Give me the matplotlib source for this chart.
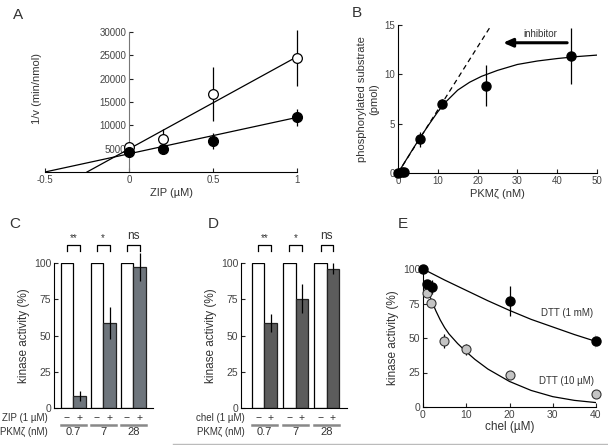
import numpy as np
import matplotlib
matplotlib.use("Agg")
import matplotlib.pyplot as plt
from matplotlib.lines import Line2D

plt.rcParams['font.family'] = ['Liberation Sans', 'DejaVu Sans']
plt.rcParams['font.size'] = 7
plt.rcParams['text.color'] = '#333333'
plt.rcParams['axes.labelcolor'] = '#333333'
plt.rcParams['xtick.color'] = '#222222'
plt.rcParams['ytick.color'] = '#222222'
plt.rcParams['xtick.labelcolor'] = '#444444'
plt.rcParams['ytick.labelcolor'] = '#444444'
plt.rcParams['xtick.direction'] = 'in'
plt.rcParams['ytick.direction'] = 'in'

# ---- panel A: 1/v vs ZIP
zip_conc = [0, 0.2, 0.5, 1.0]
inv_v_open = [5300, 7000, 16800, 24500]
inv_v_open_err = [600, 2300, 5800, 6000]
inv_v_filled = [4200, 4900, 6600, 11700]
inv_v_filled_err = [400, 500, 1700, 1800]
open_fit_x = [-0.25, 1.0]
open_fit_y = [0, 24700]
filled_fit_x = [-0.5, 1.0]
filled_fit_y = [0, 11700]

# ---- panel B: phosphorylated substrate vs PKMzeta
pkm_conc = [0, 0.9, 1.5, 5.5, 11, 22, 43.5]
phos = [0, 0.07, 0.13, 3.4, 7.0, 8.85, 11.85]
phos_err = [0, 0, 0, 0.75, 0.45, 2.1, 2.8]
phos_fit_x = [0, 2, 4, 6, 8, 10, 12, 15, 18, 21, 25, 30, 35, 40, 45, 50]
phos_fit_y = [0, 1.3, 2.6, 3.85, 5.05, 6.2, 7.2, 8.4, 9.2, 9.8, 10.4, 11.0, 11.35, 11.6, 11.8, 11.95]
initial_x = [0, 23]
initial_y = [0, 14.7]

# ---- panels C, D: kinase activity bars
pkm_labels = ['0.7', '7', '28']
control = [100, 100, 100]
zip_activity = [8, 58.5, 97.5]
zip_err = [3.5, 11, 9.7]
chel_activity = [58.6, 75.2, 96.1]
chel_err = [6.5, 10, 4]
signif = ['**', '*', 'ns']

# ---- panel E: kinase activity vs chel
chel_hi_x = [0, 0.9, 2.0, 20, 40]
chel_hi_y = [100, 89, 86.7, 76.8, 47.8]
chel_hi_err = [0, 3, 5, 11, 5]
chel_lo_x = [0.85, 1.8, 4.9, 9.9, 20, 40]
chel_lo_y = [82.4, 75.6, 47.8, 41.8, 23.2, 9.2]
chel_lo_err = [0, 0, 5, 4, 0, 0]
hi_fit_x = [0, 5, 10, 15, 20, 25, 30, 35, 40]
hi_fit_y = [100, 92, 84.5, 77, 70, 63.5, 58, 52.5, 47.5]
lo_fit_x = [1, 2, 3, 4, 5, 6, 8, 10, 12, 15, 20, 25, 30, 35, 40]
lo_fit_y = [85, 77, 69.5, 63, 57.5, 53, 46, 40, 34.5, 27.5, 18.5, 12, 7.5, 4.8, 3.2]

W, H = 608, 445
fig = plt.figure(figsize=(W / 100, H / 100), dpi=100)


def add_ax(left, top, right, bottom):
    return fig.add_axes([left / W, 1 - bottom / H, (right - left) / W, (bottom - top) / H])


def clean(ax):
    ax.spines['top'].set_visible(False)
    ax.spines['right'].set_visible(False)
    ax.tick_params(length=3, width=0.8, labelsize=7, pad=2)


# ---------------- A
axA = add_ax(45, 32, 297, 172)
clean(axA)
axA.spines['left'].set_position(('data', 0))
axA.spines['left'].set_color('#777777')
axA.plot(open_fit_x, open_fit_y, color='k', lw=0.9, zorder=2)
axA.plot(filled_fit_x, filled_fit_y, color='k', lw=0.9, zorder=2)
axA.errorbar(zip_conc, inv_v_open, yerr=inv_v_open_err, fmt='none', ecolor='k', elinewidth=0.9, zorder=3, clip_on=False)
axA.errorbar(zip_conc, inv_v_filled, yerr=inv_v_filled_err, fmt='none', ecolor='k', elinewidth=0.9, zorder=3, clip_on=False)
axA.plot(zip_conc, inv_v_open, 'o', ms=7, mfc='white', mec='k', mew=0.9, zorder=4, clip_on=False)
axA.plot(zip_conc, inv_v_filled, 'o', ms=7, mfc='k', mec='k', zorder=5, clip_on=False)
axA.set_xlim(-0.5, 1)
axA.set_ylim(0, 30000)
axA.set_xticks([-0.5, 0, 0.5, 1])
axA.set_xticklabels(['-0.5', '0', '0.5', '1'])
axA.set_yticks([5000, 10000, 15000, 20000, 25000, 30000])
axA.set_xlabel('ZIP (\u00b5M)', fontsize=8, labelpad=2)
axA.set_ylabel('1/v (min/nmol)', fontsize=8)
axA.yaxis.set_label_coords(-0.012, 0.6)
fig.text(18 / W, 1 - 15 / H, 'A', fontsize=11, ha='center', va='center')

# ---------------- B
axB = add_ax(398, 25, 597, 173)
clean(axB)
axB.plot(initial_x, initial_y, color='k', lw=0.9, ls=(0, (4, 3)), zorder=2)
axB.plot(phos_fit_x, phos_fit_y, color='k', lw=0.9, zorder=2)
axB.errorbar(pkm_conc, phos, yerr=phos_err, fmt='none', ecolor='k', elinewidth=0.9, zorder=3)
axB.plot(pkm_conc, phos, 'o', ms=6.5, mfc='k', mec='k', zorder=4, clip_on=False)
axB.annotate('', xy=(26.4, 13.2), xytext=(42.5, 13.2),
             arrowprops=dict(arrowstyle='-|>,head_length=0.8,head_width=0.35', lw=2.2, color='k', shrinkA=0, shrinkB=0))
axB.text(35.7, 14.1, 'inhibitor', fontsize=7, ha='center', va='center')
axB.set_xlim(0, 50)
axB.set_ylim(0, 15)
axB.set_xticks([0, 10, 20, 30, 40, 50])
axB.set_yticks([0, 5, 10, 15])
axB.set_xlabel('PKM\u03b6 (nM)', fontsize=8, labelpad=2)
axB.set_ylabel('phosphorylated substrate\n(pmol)', fontsize=8, linespacing=1.25)
fig.text(357 / W, 1 - 13 / H, 'B', fontsize=11, ha='center', va='center')


# ---------------- C, D
def bar_panel(left, right, first, step, values, errs, gray, treat_label, letter, letter_x, label_x):
    ax = add_ax(left, 263, right, 408)
    clean(ax)
    width_units = (right - left) / 12.5
    whites = first + step * np.arange(3)
    grays = whites + 1
    ax.bar(whites, control, width=1, color='white', edgecolor='k', linewidth=0.9, zorder=2)
    ax.bar(grays, values, width=1, color=gray, edgecolor='#222222', linewidth=0.9, zorder=2)
    ax.errorbar(grays, values, yerr=errs, fmt='none', ecolor='k', elinewidth=0.9, zorder=3, clip_on=False)
    ax.set_xlim(0, width_units)
    ax.set_ylim(0, 100)
    ax.set_xticks([])
    ax.set_yticks([0, 25, 50, 75, 100])
    ax.tick_params(labelsize=7.5)
    ax.set_ylabel('kinase activity (%)', fontsize=8.5, labelpad=3)
    tr = ax.get_xaxis_transform()
    row1, line_y, row2 = -0.072, -0.115, -0.168
    for i in range(3):
        x0, x1 = whites[i], grays[i]
        ax.plot([x0, x0, x1, x1], [108.3, 112.4, 112.4, 108.3], color='k', lw=0.9, clip_on=False)
        ax.text((x0 + x1) / 2, 117.5 if signif[i] != 'ns' else 118.5, signif[i],
                fontsize=7 if signif[i] != 'ns' else 8.5, ha='center', va='center')
        ax.text(x0, row1, '\u2212', transform=tr, ha='center', va='center', fontsize=7.5)
        ax.text(x1, row1, '+', transform=tr, ha='center', va='center', fontsize=7.5)
        ax.add_line(Line2D([x0 - 0.5, x1 + 0.5], [line_y, line_y], transform=tr, color='#888888', lw=1.8, clip_on=False))
        ax.text((x0 + x1) / 2, row2, pkm_labels[i], transform=tr, ha='center', va='center', fontsize=8)
    ax.text(label_x, row1, treat_label, transform=ax.transAxes, ha='right', va='center', fontsize=7)
    ax.text(label_x, row2, 'PKM\u03b6 (nM)', transform=ax.transAxes, ha='right', va='center', fontsize=7)
    fig.text(letter_x / W, 1 - 224 / H, letter, fontsize=11, ha='center', va='center')
    return ax


axC = bar_panel(54, 153, 1.04, 2.4, zip_activity, zip_err, '#6e757c', 'ZIP (1 \u00b5M)', 'C', 15, -0.065)
axD = bar_panel(241, 347, 1.36, 2.5, chel_activity, chel_err, '#5c5c5c', 'chel (1 \u00b5M)', 'D', 213, 0.04)

# ---------------- E
axE = add_ax(423, 269, 596, 407)
clean(axE)
axE.plot(hi_fit_x, hi_fit_y, color='k', lw=0.9, zorder=2)
axE.plot(lo_fit_x, lo_fit_y, color='k', lw=0.9, zorder=2)
axE.errorbar(chel_hi_x, chel_hi_y, yerr=chel_hi_err, fmt='none', ecolor='k', elinewidth=0.9, zorder=3)
axE.errorbar(chel_lo_x, chel_lo_y, yerr=chel_lo_err, fmt='none', ecolor='k', elinewidth=0.9, zorder=3)
axE.plot(chel_lo_x, chel_lo_y, 'o', ms=6.5, mfc='#c4c4c4', mec='#333333', mew=0.8, zorder=4, clip_on=False)
axE.plot(chel_hi_x, chel_hi_y, 'o', ms=6.5, mfc='k', mec='k', zorder=5, clip_on=False)
axE.text(33.3, 68, 'DTT (1 mM)', fontsize=7, ha='center', va='center')
axE.text(33.1, 18.8, 'DTT (10 \u00b5M)', fontsize=7, ha='center', va='center')
axE.set_xlim(0, 40)
axE.set_ylim(0, 100)
axE.set_xticks([0, 10, 20, 30, 40])
axE.set_yticks([0, 25, 50, 75, 100])
axE.tick_params(labelsize=7.5)
axE.set_xlabel('chel (\u00b5M)', fontsize=8.5, labelpad=1)
axE.set_ylabel('kinase activity (%)', fontsize=8.5, labelpad=3)
fig.text(403 / W, 1 - 224 / H, 'E', fontsize=11, ha='center', va='center')

# faint scan line at the bottom edge
fig.add_artist(Line2D([173 / W, 1], [1 - 443.5 / H, 1 - 443.5 / H], transform=fig.transFigure, color='#bbbbbb', lw=1))

fig.savefig('out.png', dpi=100)
